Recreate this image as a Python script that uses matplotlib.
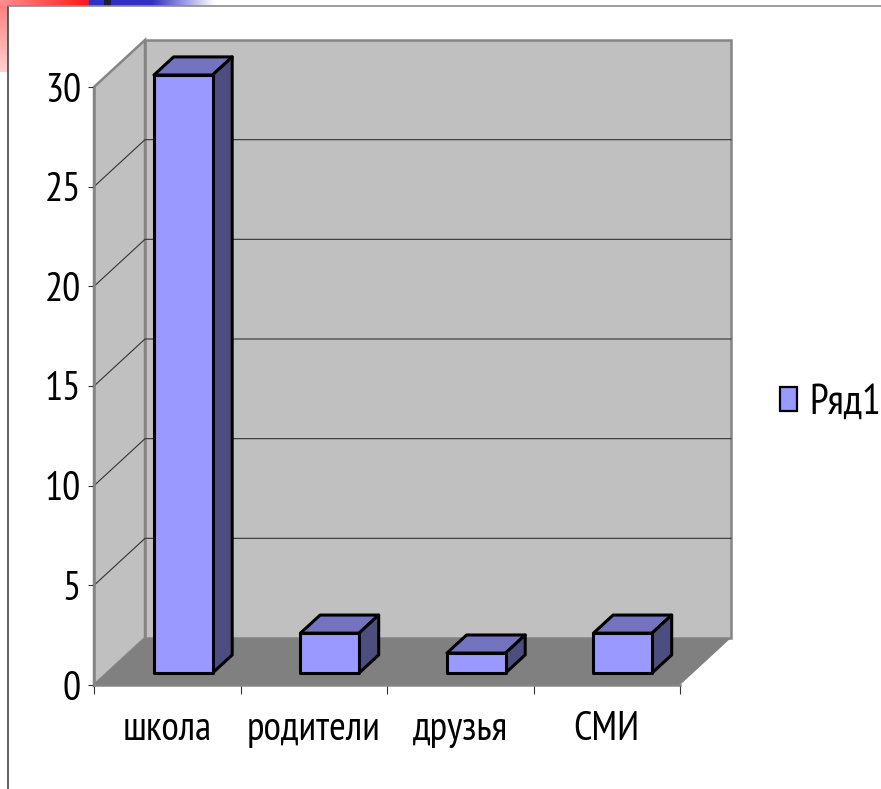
import numpy as np
import matplotlib
matplotlib.use('Agg')
import matplotlib.pyplot as plt
from matplotlib.patches import Polygon, Patch
from matplotlib.lines import Line2D
from matplotlib.colors import LinearSegmentedColormap

categories = ['школа', 'родители', 'друзья', 'СМИ']
values = [30, 2, 1, 2]
y_ticks = [0, 5, 10, 15, 20, 25, 30]
series_name = 'Ряд1'

W, H = 881, 789
plt.rcParams['font.family'] = ['PT Sans Narrow', 'Liberation Sans']

fig = plt.figure(figsize=(W / 100, H / 100), dpi=100, facecolor='white')

#slide decoration behind the chart
bg = fig.add_axes([0, 0, 1, 1], zorder=0)
bg.set_xlim(0, W)
bg.set_ylim(H, 0)
bg.axis('off')
red = LinearSegmentedColormap.from_list('r', ['#ff9090', '#ff1818'])
blue = LinearSegmentedColormap.from_list('b', ['#3030c4', '#3030c4', '#ffffff'])
pink = LinearSegmentedColormap.from_list('p', ['#ff8080', '#ffd0d0'])
grad = np.linspace(0, 1, 200)
bg.imshow(grad[None, :], cmap=red, extent=[0, 89, 6, 0], aspect='auto')
bg.imshow(grad[None, :], cmap=blue, extent=[89, 215, 6, 0], aspect='auto')
bg.imshow(grad[:, None], cmap=pink, extent=[0, 8, 72, 6], aspect='auto')
bg.add_patch(plt.Rectangle((104, 0), 7, 6, color='#222222', lw=0))
bg.plot([8, 8], [6, H], color='#444444', lw=1.2)
bg.plot([8, W], [6, 6], color='#8c8c8c', lw=1.2)
bg.set_xlim(0, W)
bg.set_ylim(H, 0)

#front plane of the chart
left, right, bottom, top = 94, 680, 685, 87
ax = fig.add_axes([left / W, 1 - bottom / H, (right - left) / W, (bottom - top) / H],
                  zorder=1)
ax.patch.set_alpha(0)
ax.set_xlim(0, len(categories))
ax.set_ylim(0, max(y_ticks))

px_x = (right - left) / len(categories)
px_y = (bottom - top) / max(y_ticks)
DX = 51 / px_x
DY = 47 / px_y


def proj(x, v, d):
    return (x + d * DX, v + d * DY)


n = len(categories)
vmax = max(y_ticks)
wall = '#c0c0c0'
floor = '#808080'
edge = '#858585'

ax.add_patch(Polygon([proj(0, 0, 1), proj(n, 0, 1), proj(n, vmax, 1), proj(0, vmax, 1)],
                     fc=wall, ec=edge, lw=1.8, clip_on=False, zorder=1))
ax.add_patch(Polygon([proj(0, 0, 0), proj(0, 0, 1), proj(0, vmax, 1), proj(0, vmax, 0)],
                     fc=wall, ec=edge, lw=1.8, clip_on=False, zorder=1))
ax.add_patch(Polygon([proj(0, 0, 0), proj(n, 0, 0), proj(n, 0, 1), proj(0, 0, 1)],
                     fc=floor, ec='none', clip_on=False, zorder=2))

#gridlines on both walls
for t in y_ticks[1:-1]:
    xs, ys = zip(proj(0, t, 0), proj(0, t, 1), proj(n, t, 1))
    ax.add_line(Line2D(xs, ys, color='#333333', lw=0.8, clip_on=False, zorder=2))

#bars
d0, d1 = 0.255, 0.64
bar_w = 0.40
front_c, top_c, side_c = '#9999ff', '#7373bf', '#4d4d7f'
for i, v in enumerate(values):
    x0 = i + 0.5 - bar_w / 2 + 3 / px_x
    x1 = x0 + bar_w
    kw = dict(ec='black', lw=2.2, joinstyle='round', clip_on=False, zorder=3)
    ax.add_patch(Polygon([proj(x0, v, d0), proj(x1, v, d0), proj(x1, v, d1), proj(x0, v, d1)],
                         fc=top_c, **kw))
    ax.add_patch(Polygon([proj(x1, 0, d0), proj(x1, 0, d1), proj(x1, v, d1), proj(x1, v, d0)],
                         fc=side_c, **kw))
    ax.add_patch(Polygon([proj(x0, 0, d0), proj(x1, 0, d0), proj(x1, v, d0), proj(x0, v, d0)],
                         fc=front_c, **kw))

for s in ['top', 'right']:
    ax.spines[s].set_visible(False)
for s in ['left', 'bottom']:
    ax.spines[s].set_color('#858585')
    ax.spines[s].set_linewidth(1.8)
    ax.spines[s].set_zorder(2.5)

ax.set_yticks(y_ticks)
ax.tick_params(axis='y', length=4.5, width=0.8, color='#333333', labelsize=29, pad=5)
ax.set_xticks(np.arange(n + 1))
ax.set_xticklabels([])
ax.set_xticks(np.arange(n) + 0.5, categories, minor=True)
ax.tick_params(axis='x', which='major', length=6.5, width=0.8, color='#333333')
ax.tick_params(axis='x', which='minor', length=0, labelsize=29, pad=19)

handle = Patch(fc=front_c, ec='black', lw=1.6)
fig.legend([handle], [series_name], loc='center left',
           bbox_to_anchor=(776 / W, 1 - 403 / H), frameon=False, fontsize=30,
           handlelength=0.4, handleheight=0.5, handletextpad=0.3,
           borderpad=0.1, borderaxespad=0)

fig.savefig('out.png', dpi=100)
